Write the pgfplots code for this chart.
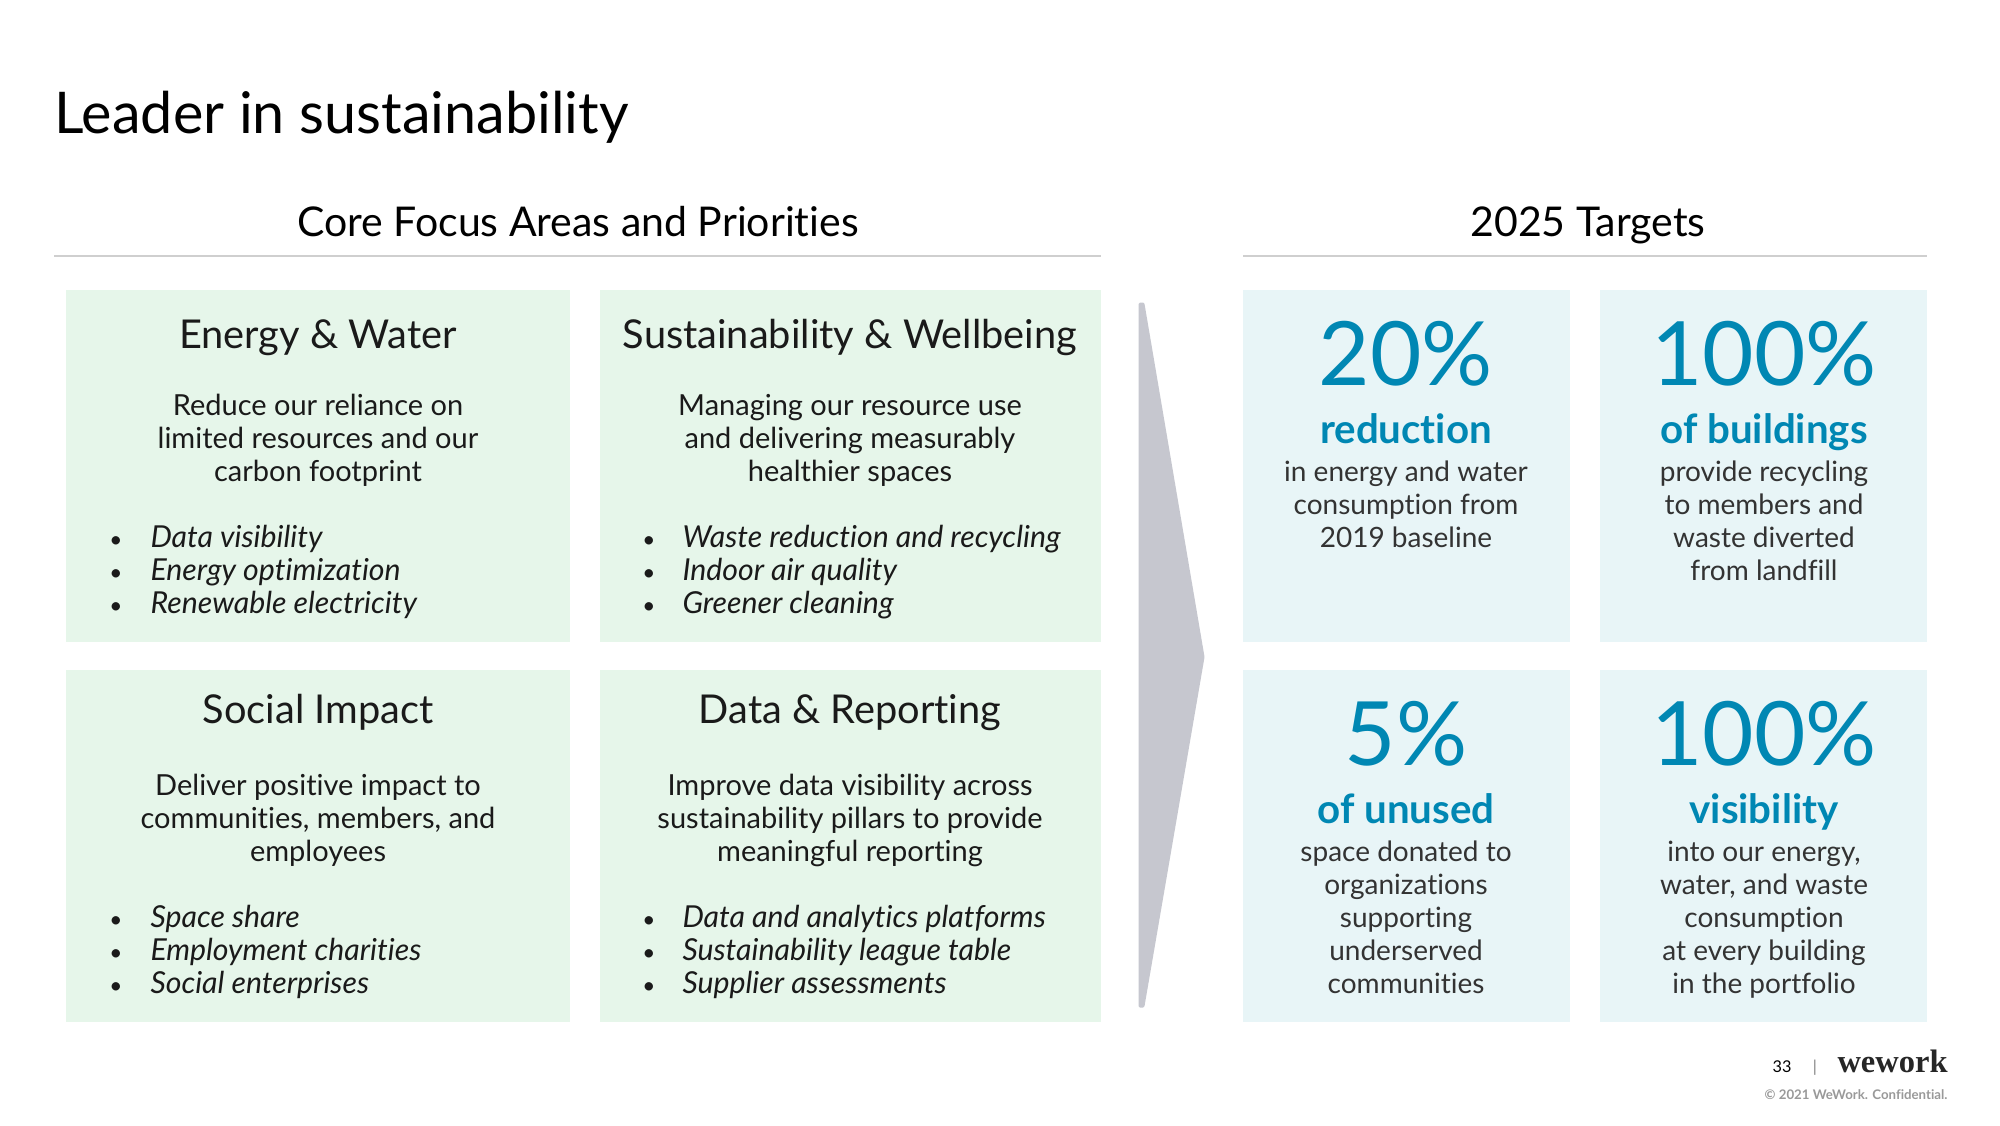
\documentclass[border=0pt]{standalone}
\usepackage{pgfplots}
\pgfplotsset{compat=1.18}
\usepackage{fontspec}
\setmainfont{Lato}[Ligatures=NoCommon]
\newfontfamily\logofont{Liberation Serif}
\definecolor{boxgreen}{HTML}{E6F6EA}
\definecolor{boxblue}{HTML}{E8F5F7}
\definecolor{tblue}{HTML}{0087B3}
\definecolor{wedgegray}{HTML}{C6C7CF}
\definecolor{rulegray}{HTML}{CFCFCF}
\definecolor{bodygray}{HTML}{333333}
\definecolor{txt}{HTML}{1A1A1A}
\tikzset{
  ttl/.style={anchor=base west, inner sep=0pt, font=\fontsize{23}{28}\selectfont, text=black},
  sec/.style={anchor=base, inner sep=0pt, font=\fontsize{16.4}{20}\selectfont, text=black},
  head/.style={anchor=base, inner sep=0pt, font=\fontsize{15.9}{18}\selectfont, text=txt},
  body/.style={anchor=base, inner sep=0pt, font=\fontsize{11.6}{13}\selectfont, text=txt},
  bul/.style={anchor=base west, inner sep=0pt, font=\fontsize{12.1}{14}\selectfont\itshape, text=txt},
  dot/.style={anchor=base, inner sep=0pt, font=\fontsize{9}{11}\selectfont, text=txt},
  big/.style={anchor=base, inner sep=0pt, font=\fontsize{35.5}{40}\selectfont, text=tblue},
  sub/.style={anchor=base, inner sep=0pt, font=\fontsize{16.1}{18}\selectfont\bfseries, text=tblue},
  tb/.style={anchor=base, inner sep=0pt, font=\fontsize{11.2}{13}\selectfont, text=bodygray},
}
\begin{document}
\begin{tikzpicture}
\begin{axis}[scale only axis, width=800pt, height=450pt,
  xmin=0, xmax=2000, ymin=0, ymax=1125, y dir=reverse,
  axis lines=none, ticks=none, clip=false]
% page background (fixes the picture's extent)
\addplot[fill=white, draw=none] coordinates {(0,0) (2000,0) (2000,1125) (0,1125)} -- cycle;
% boxes
\addplot[fill=boxgreen, draw=none] coordinates {(66,290) (570,290) (570,642) (66,642)} -- cycle;
\addplot[fill=boxgreen, draw=none] coordinates {(600,290) (1101,290) (1101,642) (600,642)} -- cycle;
\addplot[fill=boxgreen, draw=none] coordinates {(66,670) (570,670) (570,1022) (66,1022)} -- cycle;
\addplot[fill=boxgreen, draw=none] coordinates {(600,670) (1101,670) (1101,1022) (600,1022)} -- cycle;
\addplot[fill=boxblue, draw=none] coordinates {(1243,290) (1570,290) (1570,642) (1243,642)} -- cycle;
\addplot[fill=boxblue, draw=none] coordinates {(1600,290) (1927,290) (1927,642) (1600,642)} -- cycle;
\addplot[fill=boxblue, draw=none] coordinates {(1243,670) (1570,670) (1570,1022) (1243,1022)} -- cycle;
\addplot[fill=boxblue, draw=none] coordinates {(1600,670) (1927,670) (1927,1022) (1600,1022)} -- cycle;
% wedge
\addplot[fill=wedgegray, draw=wedgegray, line join=round, line width=1.2pt] coordinates {(1140,304) (1143,304) (1203,657) (1143,1006) (1140,1006)} -- cycle;
% rules
\addplot[draw=rulegray, line width=0.6pt] coordinates {(54,256) (1101,256)};
\addplot[draw=rulegray, line width=0.6pt] coordinates {(1243,256) (1927,256)};
% titles
\node[ttl] at (axis cs:54,133) {Leader in sustainability};
\node[sec] at (axis cs:578,236) {Core Focus Areas and Priorities};
\node[sec] at (axis cs:1588,236) {2025 Targets};
% box 1
\node[head] at (axis cs:318,348) {Energy \& Water};
\node[body] at (axis cs:318,415) {Reduce our reliance on};
\node[body] at (axis cs:318,448) {limited resources and our};
\node[body] at (axis cs:318,481) {carbon footprint};
\node[dot] at (axis cs:116,547) {•};
\node[dot] at (axis cs:116,580) {•};
\node[dot] at (axis cs:116,613) {•};
\node[bul] at (axis cs:150,547) {Data visibility};
\node[bul] at (axis cs:150,580) {Energy optimization};
\node[bul] at (axis cs:150,613) {Renewable electricity};
% box 2
\node[head] at (axis cs:850,348) {Sustainability \& Wellbeing};
\node[body] at (axis cs:850,415) {Managing our resource use};
\node[body] at (axis cs:850,448) {and delivering measurably};
\node[body] at (axis cs:850,481) {healthier spaces};
\node[dot] at (axis cs:649,547) {•};
\node[dot] at (axis cs:649,580) {•};
\node[dot] at (axis cs:649,613) {•};
\node[bul] at (axis cs:682,547) {Waste reduction and recycling};
\node[bul] at (axis cs:682,580) {Indoor air quality};
\node[bul] at (axis cs:682,613) {Greener cleaning};
% box 3
\node[head] at (axis cs:318,723) {Social Impact};
\node[body] at (axis cs:318,795) {Deliver positive impact to};
\node[body] at (axis cs:318,828) {communities, members, and};
\node[body] at (axis cs:318,861) {employees};
\node[dot] at (axis cs:116,927) {•};
\node[dot] at (axis cs:116,960) {•};
\node[dot] at (axis cs:116,993) {•};
\node[bul] at (axis cs:150,927) {Space share};
\node[bul] at (axis cs:150,960) {Employment charities};
\node[bul] at (axis cs:150,993) {Social enterprises};
% box 4
\node[head] at (axis cs:850,723) {Data \& Reporting};
\node[body] at (axis cs:850,795) {Improve data visibility across};
\node[body] at (axis cs:850,828) {sustainability pillars to provide};
\node[body] at (axis cs:850,861) {meaningful reporting};
\node[dot] at (axis cs:649,927) {•};
\node[dot] at (axis cs:649,960) {•};
\node[dot] at (axis cs:649,993) {•};
\node[bul] at (axis cs:682,927) {Data and analytics platforms};
\node[bul] at (axis cs:682,960) {Sustainability league table};
\node[bul] at (axis cs:682,993) {Supplier assessments};
% target 1
\node[big] at (axis cs:1406,385) {20\%};
\node[sub] at (axis cs:1406,443) {reduction};
\node[tb] at (axis cs:1406,481) {in energy and water};
\node[tb] at (axis cs:1406,514) {consumption from};
\node[tb] at (axis cs:1406,547) {2019 baseline};
% target 2
\node[big] at (axis cs:1764,385) {100\%};
\node[sub] at (axis cs:1764,443) {of buildings};
\node[tb] at (axis cs:1764,481) {provide recycling};
\node[tb] at (axis cs:1764,514) {to members and};
\node[tb] at (axis cs:1764,547) {waste diverted};
\node[tb] at (axis cs:1764,580) {from landfill};
% target 3
\node[big] at (axis cs:1406,765) {5\%};
\node[sub] at (axis cs:1406,823) {of unused};
\node[tb] at (axis cs:1406,861) {space donated to};
\node[tb] at (axis cs:1406,894) {organizations};
\node[tb] at (axis cs:1406,927) {supporting};
\node[tb] at (axis cs:1406,960) {underserved};
\node[tb] at (axis cs:1406,993) {communities};
% target 4
\node[big] at (axis cs:1764,765) {100\%};
\node[sub] at (axis cs:1764,823) {visibility};
\node[tb] at (axis cs:1764,861) {into our energy,};
\node[tb] at (axis cs:1764,894) {water, and waste};
\node[tb] at (axis cs:1764,927) {consumption};
\node[tb] at (axis cs:1764,960) {at every building};
\node[tb] at (axis cs:1764,993) {in the portfolio};
% footer
\node[anchor=base, inner sep=0pt, font=\fontsize{6.5}{8}\selectfont, text=black] at (axis cs:1782,1072) {33};
\node[anchor=base, inner sep=0pt, font=\fontsize{6.5}{8}\selectfont, text=gray] at (axis cs:1815,1072) {|};
\node[anchor=base west, inner sep=0pt, font=\logofont\bfseries\fontsize{13}{15}\selectfont, text=black!85] at (axis cs:1837,1072) {wework};
\node[anchor=base east, inner sep=0pt, font=\fontsize{5.3}{6}\selectfont\bfseries, text=black!40] at (axis cs:1948,1099) {© 2021 WeWork. Confidential.};
\end{axis}
\end{tikzpicture}
\end{document}
